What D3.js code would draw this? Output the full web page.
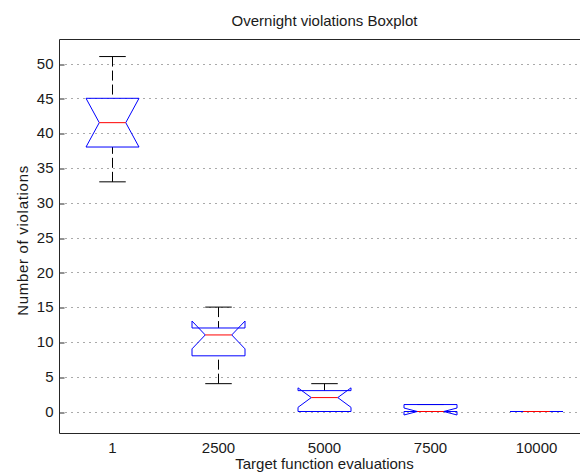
<!DOCTYPE html>
<html>
<head>
<meta charset="utf-8">
<script src="https://cdn.jsdelivr.net/npm/d3@7.9.0/dist/d3.min.js"></script>
<style>
  body { margin: 0; background: #fff; }
  svg { display: block; }
  text { font-family: "Liberation Sans", Arial, sans-serif; fill: #1a1a1a; }
</style>
</head>
<body>
<svg id="chart" width="580" height="473"></svg>
<script>
// boxplot stats
const categories = ['1', '2500', '5000', '7500', '10000'];
const whiskerLow = [33, 4, 0, 0, 0];
const q1 = [38, 8, 0, 0, 0];
const medians = [41.5, 11, 2, 0, 0];
const q3 = [45, 12, 3, 1, 0];
const whiskerHigh = [51, 15, 4, 1, 0];
const notchLow = [38, 9, 0.6, -0.5, 0];
const notchHigh = [45, 13, 3.4, 0.5, 0];
const yTicks = [0, 5, 10, 15, 20, 25, 30, 35, 40, 45, 50];

const plotLeft = 59.5, plotRight = 589.5, plotTop = 39.5, plotBottom = 433.5;

const svg = d3.select('#chart');

const x = d3.scalePoint().domain(categories).range([plotLeft, plotRight]).padding(0.5);
const y = d3.scaleLinear().domain([-3.16, 53.45]).range([plotBottom, plotTop]);

const halfW = x.step() * 0.25;
const inset = halfW / 2;

// dotted grid
svg.append('g')
    .selectAll('line')
    .data(yTicks)
    .join('line')
    .attr('x1', plotLeft + 6)
    .attr('x2', 580)
    .attr('y1', d => Math.round(y(d)) + 0.5)
    .attr('y2', d => Math.round(y(d)) + 0.5)
    .attr('stroke', '#555')
    .attr('stroke-dasharray', '1,5');

// left axis with inward ticks
const yAxis = d3.axisLeft(y).tickValues(yTicks).tickSizeInner(-5).tickSizeOuter(0).tickPadding(6);
const gy = svg.append('g').attr('transform', `translate(${plotLeft},0)`).call(yAxis);
gy.select('.domain').remove();
gy.selectAll('.tick line').attr('stroke', '#262626')
    .attr('transform', d => `translate(0,${Math.round(y(d)) + 0.5 - y(d)})`);
gy.selectAll('.tick text').attr('font-size', 15).attr('fill', '#1a1a1a')
    .attr('font-family', '"Liberation Sans", Arial, sans-serif');

// x tick labels
svg.append('g')
    .selectAll('text')
    .data(categories)
    .join('text')
    .attr('x', d => x(d))
    .attr('y', 453)
    .attr('text-anchor', 'middle')
    .attr('font-size', 15)
    .text(d => d);

// frame
svg.append('path')
    .attr('d', `M580,${plotTop}H${plotLeft}V${plotBottom}H580`)
    .attr('fill', 'none')
    .attr('stroke', '#262626');

// boxes
const boxes = svg.append('g');
categories.forEach((c, i) => {
    const cx = x(c);
    const g = boxes.append('g');

    // whiskers
    g.append('line')
        .attr('x1', cx).attr('x2', cx)
        .attr('y1', y(whiskerHigh[i])).attr('y2', y(q3[i]))
        .attr('stroke', '#000').attr('stroke-dasharray', '10,4');
    g.append('line')
        .attr('x1', cx).attr('x2', cx)
        .attr('y1', y(whiskerLow[i])).attr('y2', y(q1[i]))
        .attr('stroke', '#000').attr('stroke-dasharray', '10,4');
    [whiskerHigh[i], whiskerLow[i]].forEach(v => {
        g.append('line')
            .attr('x1', cx - inset).attr('x2', cx + inset)
            .attr('y1', y(v)).attr('y2', y(v))
            .attr('stroke', '#000');
    });

    // notched box
    const xl = cx - halfW, xr = cx + halfW;
    const pts = [
        [xl, y(q1[i])], [xl, y(notchLow[i])], [xl + inset, y(medians[i])],
        [xl, y(notchHigh[i])], [xl, y(q3[i])], [xr, y(q3[i])],
        [xr, y(notchHigh[i])], [xr - inset, y(medians[i])], [xr, y(notchLow[i])],
        [xr, y(q1[i])]
    ];
    g.append('path')
        .attr('d', d3.line()(pts) + 'Z')
        .attr('fill', 'none')
        .attr('stroke', '#0000ff');

    // median
    g.append('line')
        .attr('x1', xl + inset).attr('x2', xr - inset)
        .attr('y1', y(medians[i])).attr('y2', y(medians[i]))
        .attr('stroke', '#ff0000');
});

// title and labels
svg.append('text')
    .attr('x', (plotLeft + plotRight) / 2)
    .attr('y', 26)
    .attr('text-anchor', 'middle')
    .attr('font-size', 15)
    .text('Overnight violations Boxplot');

svg.append('text')
    .attr('x', (plotLeft + plotRight) / 2)
    .attr('y', 469)
    .attr('text-anchor', 'middle')
    .attr('font-size', 15)
    .text('Target function evaluations');

svg.append('text')
    .attr('transform', 'translate(27.5,240.5) rotate(-90)')
    .attr('text-anchor', 'middle')
    .attr('font-size', 15)
    .attr('letter-spacing', 0.7)
    .text('Number of violations');
</script>
</body>
</html>
